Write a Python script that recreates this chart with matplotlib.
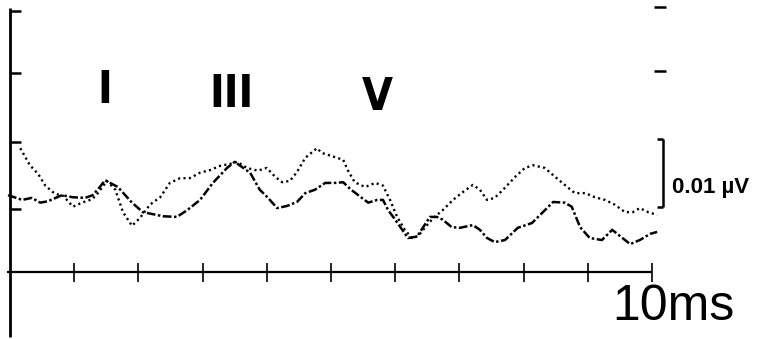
import matplotlib.pyplot as plt

# tiempo en ms y amplitud en nV (0.01 uV = 10 nV)
t_a = [0.16, 0.31, 0.44, 0.55, 0.70, 0.83, 0.98, 1.12, 1.28, 1.37, 1.51, 1.64, 1.76, 1.90,
       2.02, 2.18, 2.34, 2.49, 2.65, 2.80, 2.96, 3.12, 3.27, 3.43, 3.54, 3.69, 3.86, 4.00,
       4.13, 4.24, 4.36, 4.47, 4.60, 4.78, 4.86, 5.06, 5.19, 5.26, 5.37, 5.53, 5.69, 5.81,
       5.92, 6.03, 6.15, 6.26, 6.36, 6.46, 6.59, 6.74, 6.90, 7.06, 7.21, 7.32, 7.43, 7.55,
       7.68, 7.87, 8.02, 8.15, 8.33, 8.49, 8.68, 8.80, 8.96, 9.11, 9.27, 9.42, 9.58, 9.70,
       9.81, 9.94, 10.08]
amp_a = [18.2, 15.7, 14.4, 12.7, 11.5, 11.2, 9.6, 10.2, 10.7, 11.6, 13.4, 12.1, 8.8, 6.8,
         7.9, 9.9, 11.0, 13.1, 13.8, 13.8, 14.6, 15.0, 15.6, 15.9, 16.2, 15.3, 14.9, 15.3,
         14.0, 13.2, 13.4, 14.7, 16.8, 18.2, 17.5, 16.9, 16.5, 15.0, 13.2, 12.5, 13.1, 12.7,
         10.6, 8.1, 6.2, 5.0, 5.3, 6.5, 7.9, 9.1, 10.6, 11.8, 12.8, 12.1, 10.6, 10.9,
         12.1, 14.0, 15.3, 15.7, 15.3, 14.0, 12.5, 11.6, 11.6, 11.0, 10.6, 9.9, 8.8, 8.8,
         9.4, 8.8, 8.4]

t_b = [-0.03, 0.19, 0.34, 0.47, 0.59, 0.81, 0.97, 1.17, 1.29, 1.40, 1.48, 1.68, 1.90, 2.07,
       2.23, 2.38, 2.60, 2.76, 2.96, 3.16, 3.38, 3.50, 3.74, 3.89, 4.02, 4.16, 4.31, 4.47,
       4.60, 4.75, 4.91, 5.06, 5.19, 5.30, 5.48, 5.58, 5.72, 5.81, 5.89, 6.00, 6.11, 6.20,
       6.34, 6.54, 6.65, 6.74, 6.88, 7.01, 7.21, 7.32, 7.43, 7.55, 7.71, 7.91, 8.13, 8.29,
       8.46, 8.64, 8.75, 8.88, 9.03, 9.22, 9.38, 9.50, 9.66, 9.81, 9.97, 10.08]
amp_b = [11.3, 10.6, 10.9, 10.2, 10.4, 11.3, 11.0, 10.9, 11.3, 12.5, 13.5, 12.5, 10.2, 8.8,
         8.5, 8.2, 8.1, 9.1, 10.6, 13.1, 15.3, 16.2, 14.6, 12.1, 10.9, 9.4, 9.7, 10.3,
         11.6, 12.1, 13.1, 13.1, 13.2, 12.2, 10.9, 10.2, 10.6, 10.6, 9.1, 7.7, 6.2, 5.0,
         5.2, 8.1, 8.1, 7.7, 6.6, 6.5, 6.9, 6.2, 5.0, 4.4, 4.7, 6.5, 7.2, 8.7,
         10.3, 10.2, 9.6, 6.6, 5.0, 4.7, 6.2, 5.3, 4.1, 4.7, 5.6, 5.9]

# marcas del eje de tiempo y del eje vertical
ticks_t = [1, 2, 3, 4, 5, 6, 7, 8, 9, 10]
ticks_izq = [9.3, 19.1, 29.3, 38.4]
ticks_der = [29.6, 39.0]
picos = ['I', 'III', 'V']
picos_t = [1.48, 3.45, 5.72]
picos_amp = [24.8, 24.3, 23.8]
escala = [9.56, 19.56]

fig = plt.figure(figsize=(7.61, 3.39), dpi=100)
ax = fig.add_axes([0, 0, 1, 1])
ax.set_xlim(-10 / 64.2, 751 / 64.2)
ax.set_ylim(-67 / 6.8, 272 / 6.8)
ax.axis('off')

# trazos de los potenciales
ax.plot(t_a, amp_a, color='black', linewidth=1.7, dashes=(0.9, 1.4))
ax.plot(t_b, amp_b, color='black', linewidth=1.8, dashes=(3.5, 1.0, 1.0, 1.0))

# ejes dibujados a mano
ax.vlines(0, -9.6, 38.8, color='black', linewidth=2)
ax.hlines(0, -0.05, 10, color='black', linewidth=1.6)
ax.vlines(ticks_t, -1.4, 1.3, color='black', linewidth=1.2)
ax.hlines(ticks_izq, 0, 0.17, color='black', linewidth=1.8)
ax.hlines(ticks_der, 10.03, 10.22, color='black', linewidth=1.8)

# barra de escala
ax.vlines(10.17, escala[0], escala[1], color='black', linewidth=1.8)
ax.hlines(escala, 10.08, 10.17, color='black', linewidth=1.8)
ax.text(10.31, 11.6, '0.01 µV', fontsize=16, fontweight='bold',
        family=['Liberation Sans', 'DejaVu Sans'], va='baseline', ha='left')

# etiquetas de las ondas, letra estrecha
for nombre, t, a in zip(picos, picos_t, picos_amp):
    ax.text(t, a, nombre, fontsize=32, family='DejaVu Sans', fontstretch='condensed',
            fontweight='bold', ha='center', va='baseline')

ax.text(9.38, -7.06, '10ms', fontsize=36, family='Liberation Sans', ha='left', va='baseline')

fig.savefig('out.png', dpi=100)
